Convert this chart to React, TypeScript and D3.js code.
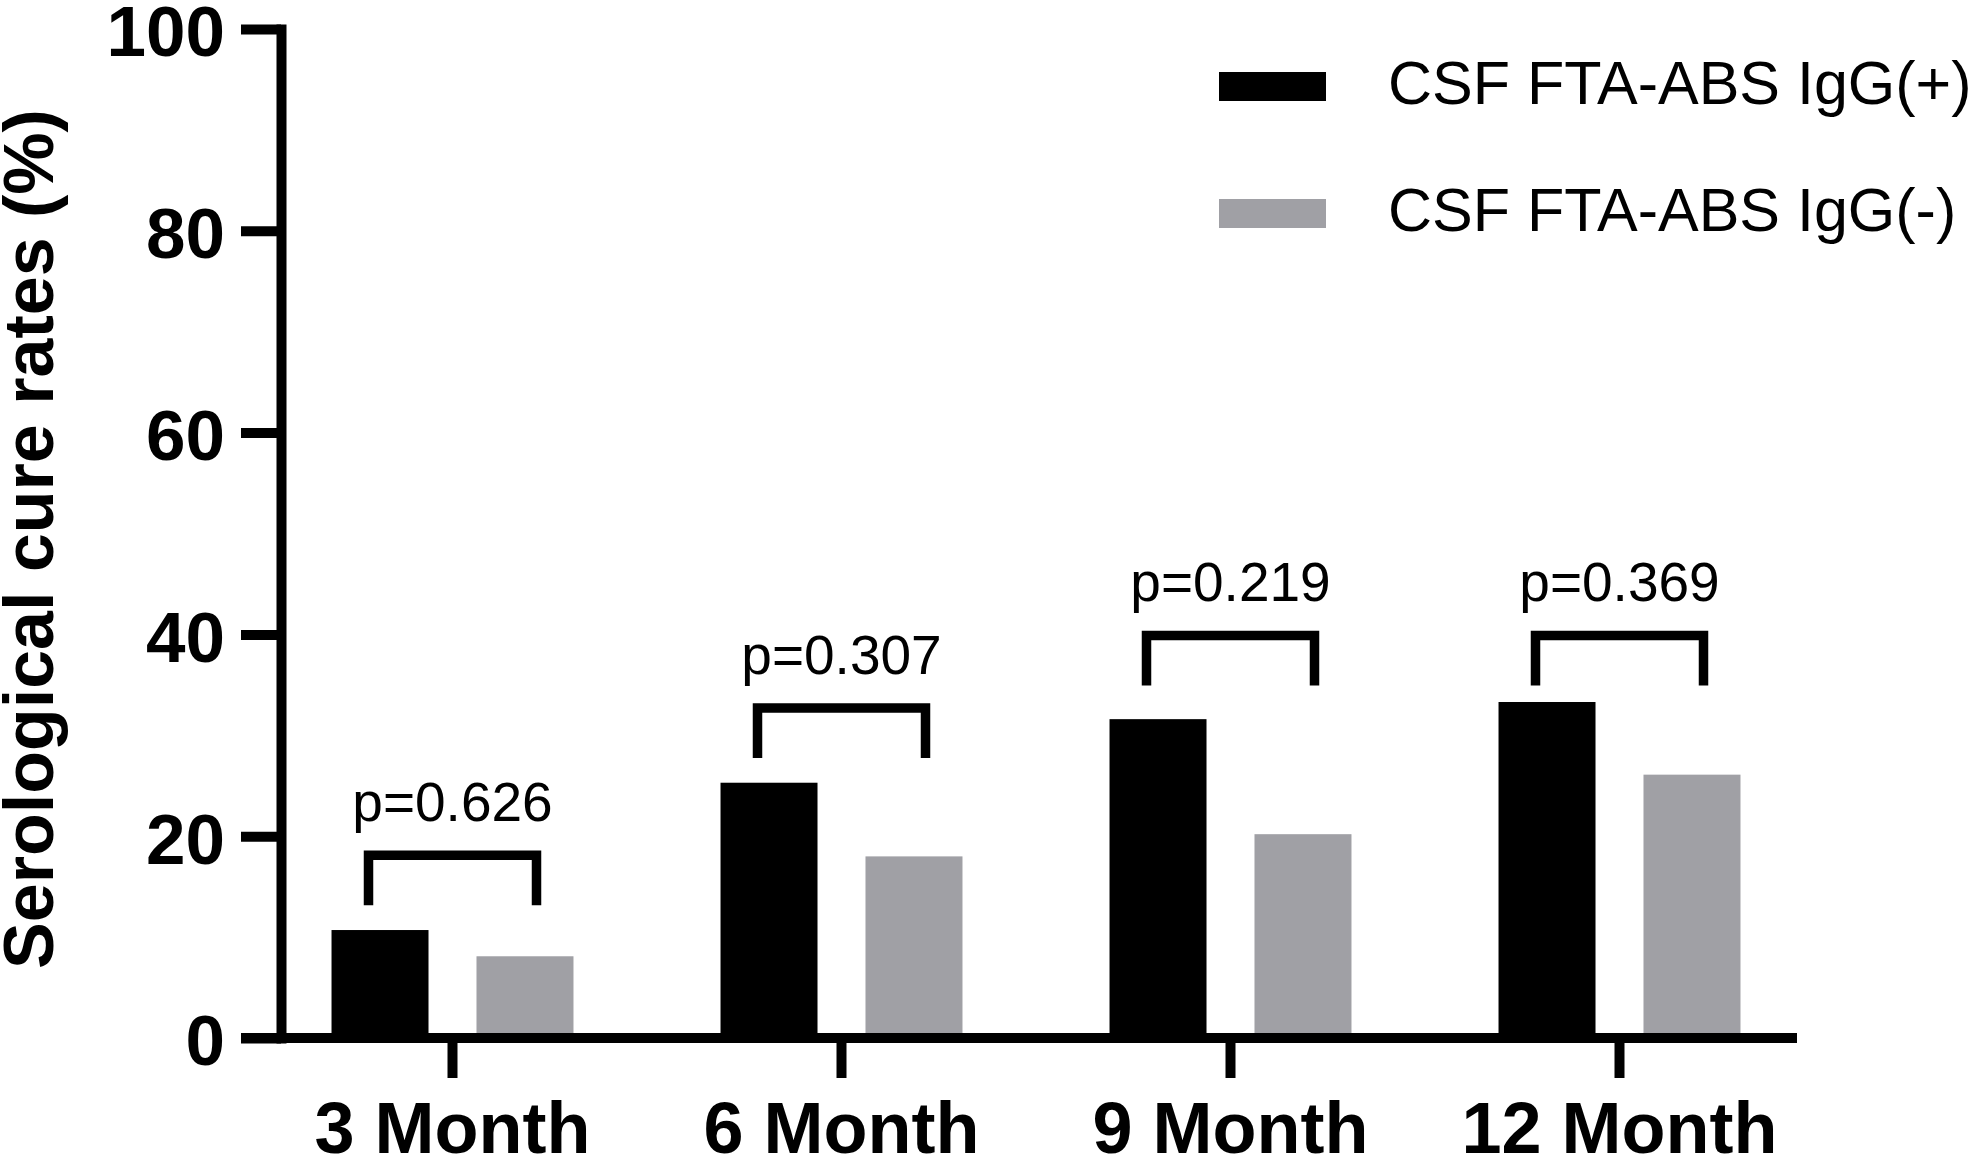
import { useEffect, useRef } from "react";
import * as d3 from "d3";

const months = ["3 Month", "6 Month", "9 Month", "12 Month"];
const seriesNames = ["CSF FTA-ABS IgG(+)", "CSF FTA-ABS IgG(-)"];
const positiveRates = [10.7, 25.3, 31.6, 33.3];
const negativeRates = [8.1, 18.0, 20.2, 26.1];
const pValues = ["p=0.626", "p=0.307", "p=0.219", "p=0.369"];
// height (in %) of the comparison bracket above each pair
const bracketLevels = [18.1, 32.7, 39.9, 39.9];
const yTicks = [0, 20, 40, 60, 80, 100];
const seriesColors = ["#000000", "#a0a0a5"];

const W = 1983;
const H = 1163;
const FONT = "'Liberation Sans', Arial, Helvetica, sans-serif";

export default function App() {
  const svgRef = useRef<SVGSVGElement>(null);

  const axisX = 281;
  const yTop = 29;
  const yBottom = 1038;
  const xEnd = 1797;
  const tickLen = 40;
  const lw = 10;

  useEffect(() => {
    if (!svgRef.current) return;
    const svg = d3.select(svgRef.current);
    svg.selectAll("*").remove();

    const y = d3.scaleLinear().domain([0, 100]).range([yBottom, yTop]);
    const x = d3
      .scaleBand<string>()
      .domain(months)
      .range([258, 1814])
      .paddingInner(0.378)
      .paddingOuter(0.189);
    const xs = d3
      .scaleBand<string>()
      .domain(seriesNames)
      .range([0, x.bandwidth()])
      .paddingInner(0.331);

    const rows = months.map((m, i) => ({
      month: m,
      values: [positiveRates[i], negativeRates[i]],
      p: pValues[i],
      level: bracketLevels[i],
    }));

    // bars
    const groups = svg
      .append("g")
      .selectAll("g")
      .data(rows)
      .join("g")
      .attr("transform", (d) => `translate(${x(d.month)},0)`);

    groups
      .selectAll("rect")
      .data((d) =>
        d.values.map((v, j) => ({ name: seriesNames[j], v, color: seriesColors[j] })),
      )
      .join("rect")
      .attr("x", (d) => xs(d.name)!)
      .attr("width", xs.bandwidth())
      .attr("y", (d) => y(d.v))
      .attr("height", (d) => y(0) - y(d.v))
      .attr("fill", (d) => d.color);

    // y axis
    const yAxis = svg
      .append("g")
      .attr("transform", `translate(${axisX},0)`)
      .call(
        d3
          .axisLeft(y)
          .tickValues(yTicks)
          .tickSize(tickLen)
          .tickSizeOuter(0)
          .tickPadding(16),
      );
    yAxis
      .select(".domain")
      .attr("stroke", "#000")
      .attr("stroke-width", lw)
      .attr("stroke-linecap", "square");
    yAxis.selectAll(".tick line").attr("stroke", "#000").attr("stroke-width", lw);
    yAxis
      .selectAll(".tick text")
      .attr("font-family", FONT)
      .attr("font-size", 71)
      .attr("font-weight", "bold")
      .attr("fill", "#000")
      .attr("dy", "0.38em");

    // x axis
    const xAxis = svg
      .append("g")
      .attr("transform", `translate(0,${y(0)})`)
      .call(d3.axisBottom(x).tickSize(tickLen).tickSizeOuter(0));
    xAxis.select(".domain").remove();
    xAxis.selectAll(".tick line").attr("stroke", "#000").attr("stroke-width", lw);
    xAxis
      .selectAll(".tick text")
      .attr("font-family", FONT)
      .attr("font-size", 72)
      .attr("font-weight", "bold")
      .attr("fill", "#000")
      .attr("y", 64)
      .attr("dy", "0.71em");
    xAxis
      .append("line")
      .attr("x1", axisX - tickLen)
      .attr("x2", xEnd)
      .attr("stroke", "#000")
      .attr("stroke-width", lw);

    // significance brackets
    const half = 84;
    const leg = 50;
    const ann = svg.append("g");
    rows.forEach((d) => {
      const cx = x(d.month)! + x.bandwidth() / 2;
      const by = y(d.level);
      ann
        .append("path")
        .attr(
          "d",
          `M${cx - half},${by + leg}V${by}H${cx + half}V${by + leg}`,
        )
        .attr("fill", "none")
        .attr("stroke", "#000")
        .attr("stroke-width", 9.5)
        .attr("stroke-linejoin", "miter");
      ann
        .append("text")
        .attr("x", cx)
        .attr("y", by - 34)
        .attr("text-anchor", "middle")
        .attr("font-family", FONT)
        .attr("font-size", 55)
        .attr("fill", "#000")
        .text(d.p);
    });

    // legend
    const legend = svg.append("g").attr("transform", "translate(1219,72)");
    const items = legend
      .selectAll("g")
      .data(seriesNames)
      .join("g")
      .attr("transform", (_, i) => `translate(0,${i * 127})`);
    items
      .append("rect")
      .attr("width", 107)
      .attr("height", 29)
      .attr("fill", (_, i) => seriesColors[i]);
    items
      .append("text")
      .attr("x", 169)
      .attr("y", 32)
      .attr("font-family", FONT)
      .attr("font-size", 61)
      .attr("fill", "#000")
      .text((d) => d);

    // y title
    svg
      .append("text")
      .attr("transform", "translate(53,539) rotate(-90)")
      .attr("text-anchor", "middle")
      .attr("font-family", FONT)
      .attr("font-size", 70)
      .attr("font-weight", "bold")
      .attr("fill", "#000")
      .text("Serological cure rates (%)");
  }, []);

  return (
    <svg
      ref={svgRef}
      width={W}
      height={H}
      style={{ position: "absolute", left: 0, top: 0, background: "#fff", display: "block" }}
    />
  );
}
